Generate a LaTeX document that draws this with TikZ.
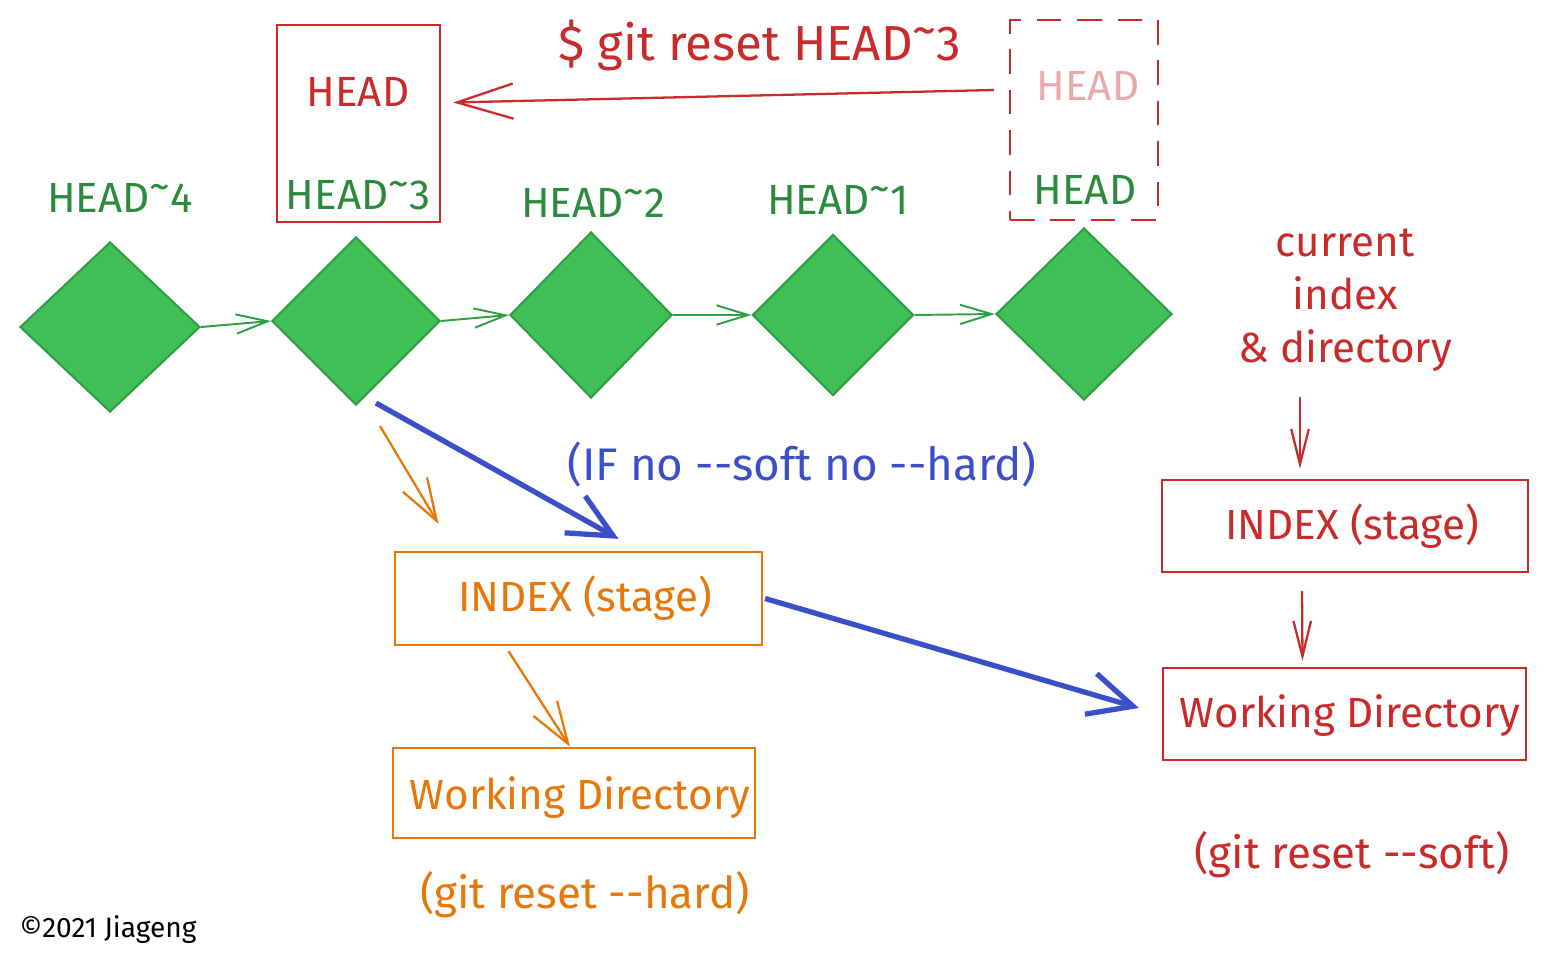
\documentclass[tikz,border=0pt]{standalone}
\usepackage{fontspec}
\setmainfont{Fira Sans}
\usetikzlibrary{arrows.meta,shapes.geometric,calc}
\definecolor{gfill}{HTML}{40C057}
\definecolor{gline}{HTML}{2F9E44}
\definecolor{gtext}{HTML}{2B8A3E}
\definecolor{rline}{HTML}{C92A2A}
\definecolor{pinktxt}{HTML}{EAA9AB}
\definecolor{orng}{HTML}{E8770A}
\definecolor{blu}{HTML}{3B4FC9}
\newcommand{\dd}{-\kern0pt-}
\newcommand{\tl}{\raisebox{0.28em}{\textasciitilde}}
\begin{document}
\begin{tikzpicture}[x=0.02cm,y=-0.02cm,
  commit/.style={diamond, fill=gfill, draw=gline, line width=1.2pt, inner sep=0pt},
  glabel/.style={text=gtext, font=\fontsize{24}{28}\selectfont},
  rtext/.style={text=rline, font=\fontsize{24}{30}\selectfont},
  otext/.style={text=orng, font=\fontsize{24}{30}\selectfont},
  btext/.style={text=blu, font=\fontsize{26}{30}\selectfont},
  garrow/.style={draw=gline, line width=1.1pt, -{Straight Barb[length=18pt,width=11pt]}},
  rbox/.style={draw=rline, line width=1.3pt, inner sep=0pt},
  obox/.style={draw=orng, line width=1.3pt, inner sep=0pt},
  rarrow/.style={draw=rline, line width=1.3pt, -{Straight Barb[length=20pt,width=10pt]}},
  oarrow/.style={draw=orng, line width=1.3pt, -{Straight Barb[length=24pt,width=16pt]}},
  barrow/.style={draw=blu, line width=3pt, -{Straight Barb[length=25pt,width=24pt]}},
]
\useasboundingbox (0,0) rectangle (1548,966);

% commits
\node[commit, minimum width=3.6cm, minimum height=3.4cm] (d1) at (110,327) {};
\node[commit, minimum width=3.36cm, minimum height=3.36cm] (d2) at (356,321) {};
\node[commit, minimum width=3.24cm, minimum height=3.32cm] (d3) at (591,315) {};
\node[commit, minimum width=3.22cm, minimum height=3.22cm] (d4) at (833,315) {};
\node[commit, minimum width=3.52cm, minimum height=3.44cm] (d5) at (1084,314) {};

\draw[garrow] (d1.east) -- (d2.west);
\draw[garrow] (d2.east) -- (d3.west);
\draw[garrow] (d3.east) -- (d4.west);
\draw[garrow] (d4.east) -- (d5.west);

% green labels
\node[glabel] (l4) at (120,198) {HEAD\tl4};
\node[glabel] (l3) at (358,195) {HEAD\tl3};
\node[glabel] (l2) at (593,203) {HEAD\tl2};
\node[glabel] (l1) at (838,200) {HEAD\tl1};
\node[glabel] (l0) at (1085,190) {HEAD};

% HEAD boxes
\node[rbox, minimum width=3.26cm, minimum height=3.94cm] (hbox) at (358.5,123.5) {};
\node[rtext] (hd) at (358,92) {HEAD};
\node[rbox, dashed, dash pattern=on 14pt off 9pt, minimum width=2.96cm, minimum height=4cm] (dbox) at (1084,120) {};
\node[text=pinktxt, font=\fontsize{24}{30}\selectfont] (ph) at (1088,86) {HEAD};
\node[rtext, font=\fontsize{28}{32}\selectfont] (cmd) at (760,45) {\$ git reset HEAD\tl3};
\draw[draw=rline, line width=1.3pt, -{Straight Barb[length=32pt,width=20pt]}]
  ($(dbox.west)+(-15,-30)$) -- ($(hbox.east)+(12,-21)$);

% right side (soft)
\node[rtext, align=center] (cur) at (1345,300) {current\\index\\\& directory};
\node[rbox, minimum width=7.32cm, minimum height=1.84cm] (ridx) at (1345,526) {};
\node[rtext] (ridxt) at (1352,526) {INDEX (stage)};
\node[rbox, minimum width=7.26cm, minimum height=1.84cm] (rwd) at (1344.5,714) {};
\node[rtext] (rwdt) at (1350,716) {Working Directory};
\node[rtext, font=\fontsize{25}{30}\selectfont] (soft) at (1352,855) {(git reset \dd soft)};
\draw[rarrow] ($(ridx.north)+(-45,-82)$) -- ($(ridx.north)+(-45,-10)$);
\draw[rarrow] ($(ridx.south)+(-43,18)$) -- ($(rwd.north)+(-42,-6)$);

% middle (hard)
\node[obox, minimum width=7.34cm, minimum height=1.86cm] (oidx) at (578.5,598.5) {};
\node[otext] (oidxt) at (585,598) {INDEX (stage)};
\node[obox, minimum width=7.24cm, minimum height=1.8cm] (owd) at (574,793) {};
\node[otext] (owdt) at (580,798) {Working Directory};
\node[otext, font=\fontsize{25}{30}\selectfont] (hard) at (585,895) {(git reset \dd hard)};
\draw[oarrow] ($(d2.south)+(24,20)$) -- ($(oidx.north)+(-140,-27)$);
\draw[oarrow] ($(oidx.south)+(-70,5)$) -- ($(owd.north)+(-4,0)$);

% blue (mixed)
\draw[barrow] ($(d2.south)+(20,-3)$) -- ($(oidx.north)+(40,-12)$);
\draw[barrow] ($(oidx.east)+(2,0)$) -- ($(rwd.west)+(-23,-6)$);
\node[btext] (mixed) at (802,465) {(IF no \dd soft no \dd hard)};

% copyright
\node[font=\fontsize{16}{19}\selectfont] (copy) at (108,930) {\textcopyright 2021 Jiageng};
\end{tikzpicture}
\end{document}
